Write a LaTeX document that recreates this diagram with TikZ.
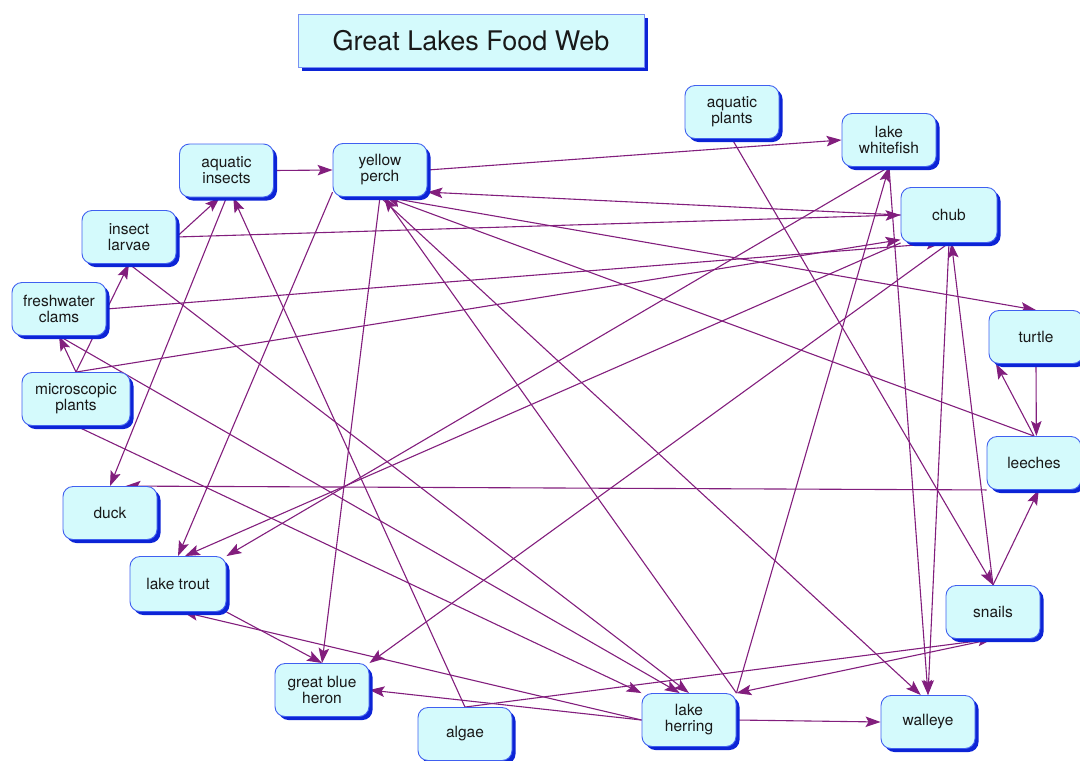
\documentclass[tikz,border=0pt]{standalone}
\usepackage{fontspec}
\setmainfont{TeX Gyre Heros}
\usetikzlibrary{arrows.meta,shadows}
\definecolor{webfill}{RGB}{212,250,252}
\definecolor{webline}{RGB}{64,96,240}
\definecolor{webshadow}{RGB}{12,36,214}
\definecolor{feedcol}{RGB}{130,30,125}
\pgfdeclarelayer{bg}
\pgfsetlayers{bg,main}
\begin{document}
\begin{tikzpicture}[x=1pt,y=-1pt,
  species/.style={draw=webline, line width=0.9pt, fill=webfill, rounded corners=10pt,
    minimum width=94pt, minimum height=53pt, inner sep=0pt, align=center,
    font=\fontsize{15.5}{16}\selectfont, text=black!90,
    drop shadow={shadow xshift=3.5pt, shadow yshift=-3.5pt, fill=webshadow, opacity=1}},
  heading/.style={draw=webline!70, line width=0.9pt, fill=webfill,
    minimum width=346pt, minimum height=53pt, inner sep=0pt,
    font=\fontsize{27}{30}\selectfont, text=black!90,
    drop shadow={shadow xshift=4pt, shadow yshift=-4pt, fill=webshadow, opacity=1}},
  feeds/.style={draw=feedcol, line width=1.1pt,
    -{Stealth[length=15pt,width=10.5pt,inset=3pt]}}]
\useasboundingbox (0,0) rectangle (1080,761);

% title
\node[heading] (title) at (471,40.5) {Great Lakes Food Web};

% species
\node[species] (ai)   at (226.5,170.5) {aquatic\\insects};
\node[species] (yp)   at (380,170)   {yellow\\perch};
\node[species] (il)   at (129,237)   {insect\\larvae};
\node[species] (fc)   at (59,309)    {freshwater\\clams};
\node[species, minimum width=108pt] (mp) at (76,399) {microscopic\\plants};
\node[species] (duck) at (110,513)   {duck};
\node[species, minimum width=96pt, minimum height=55pt] (lt) at (178,584) {lake trout};
\node[species] (gbh)  at (322,690)   {great blue\\heron};
\node[species] (alg)  at (465,734)   {algae};
\node[species] (lh)   at (689,720)   {lake\\herring};
\node[species] (wal)  at (928,722)   {walleye};
\node[species] (sn)   at (993,612)   {snails};
\node[species] (lee)  at (1034,463)  {leeches};
\node[species] (tur)  at (1036,337)  {turtle};
\node[species, minimum width=96pt, minimum height=55pt] (chub) at (949,215) {chub};
\node[species] (lwf)  at (889,140)   {lake\\whitefish};
\node[species] (ap)   at (732,112)   {aquatic\\plants};

% who is eaten by whom
\begin{pgfonlayer}{bg}
\draw[feeds] (ai.east) -- (yp.west);
\draw[feeds] (yp.east) -- (lwf.west);
\draw[feeds] (chub.west) -- (yp.-25);
\draw[feeds] (il.east) -- (chub.west);
\draw[feeds] (mp.north) -- (chub.207);
\draw[feeds] (fc.east) -- (chub.255);
\draw[feeds] (il.east) -- (ai.256);
\draw[feeds] (mp.north) -- (il.south);
\draw[feeds] (mp.north) -- (fc.south);
\draw[feeds] (il.south) -- (lh.north);
\draw[feeds] (fc.south) -- (lh.109);
\draw[feeds] (mp.south) -- (lh.north west);
\draw[feeds] (alg.north) -- (ai.-76);
\draw[feeds] (ai.south) -- (duck.north);
\draw[feeds] (lee.south west) -- (duck.60);
\draw[feeds] (yp.205) -- (lt.north);
\draw[feeds] (yp.south) -- (gbh.north);
\draw[feeds] (chub.south west) -- (lt.76);
\draw[feeds] (lwf.south) -- (lt.north east);
\draw[feeds] (chub.south) -- (gbh.north east);
\draw[feeds] (lt.south east) -- (gbh.north);
\draw[feeds] (lh.west) -- (lt.-80);
\draw[feeds] (lh.west) -- (gbh.east);
\draw[feeds] (lh.north east) -- (yp.-82);
\draw[feeds] (lee.north) -- (yp.-78);
\draw[feeds] (yp.south) -- (wal.105);
\draw[feeds] (yp.-80) -- (tur.north);
\draw[feeds] (ap.south) -- (sn.north);
\draw[feeds] (sn.north) -- (chub.-85);
\draw[feeds] (chub.south) -- (wal.north);
\draw[feeds] (lwf.south) -- (wal.north);
\draw[feeds] (lh.north east) -- (lwf.south);
\draw[feeds] (lh.east) -- (wal.west);
\draw[feeds] (sn.south) -- (lh.north east);
\draw[feeds] (alg.north) -- (sn.south);
\draw[feeds] (sn.north) -- (lee.-80);
\draw[feeds] (tur.south) -- (lee.85);
\draw[feeds] (lee.north) -- (tur.214);
\end{pgfonlayer}
\end{tikzpicture}
\end{document}
